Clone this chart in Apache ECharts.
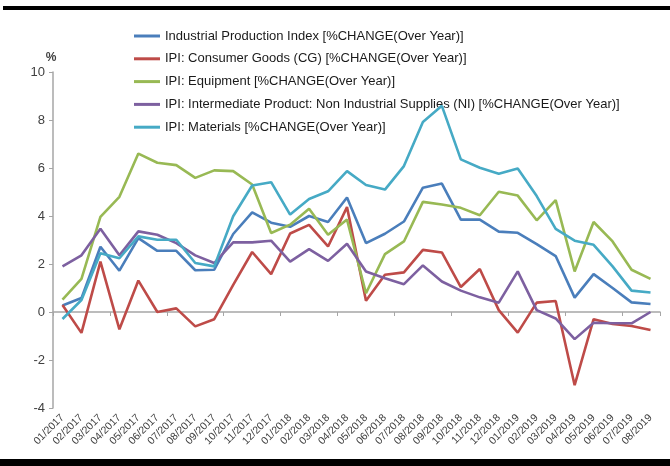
<!DOCTYPE html>
<html>
<head>
<meta charset="utf-8">
<script src="https://cdn.jsdelivr.net/npm/echarts@6/dist/echarts.min.js"></script>
<style>
  html, body { margin: 0; padding: 0; background: #ffffff; }
  #chart { width: 670px; height: 466px; }
</style>
</head>
<body>
<div id="chart"></div>
<script>
// Months, Jan 2017 – Aug 2019
const months = [
  '01/2017','02/2017','03/2017','04/2017','05/2017','06/2017','07/2017','08/2017',
  '09/2017','10/2017','11/2017','12/2017','01/2018','02/2018','03/2018','04/2018',
  '05/2018','06/2018','07/2018','08/2018','09/2018','10/2018','11/2018','12/2018',
  '01/2019','02/2019','03/2019','04/2019','05/2019','06/2019','07/2019','08/2019'
];

// Year-over-year % change of each index
const industrialProduction = [0.27, 0.58, 2.72, 1.72, 3.08, 2.55, 2.55, 1.74, 1.76, 3.25, 4.15, 3.72, 3.55, 4.0, 3.75, 4.77, 2.87, 3.26, 3.77, 5.18, 5.35, 3.85, 3.85, 3.35, 3.3, 2.83, 2.33, 0.6, 1.58, 1.0, 0.4, 0.33];
const consumerGoods = [0.29, -0.87, 2.1, -0.72, 1.31, 0.0, 0.15, -0.6, -0.3, 1.13, 2.5, 1.58, 3.27, 3.63, 2.73, 4.37, 0.47, 1.55, 1.65, 2.59, 2.48, 1.04, 1.79, 0.08, -0.86, 0.39, 0.46, -3.05, -0.3, -0.5, -0.58, -0.75];
const equipment = [0.52, 1.38, 3.96, 4.8, 6.6, 6.22, 6.12, 5.59, 5.9, 5.87, 5.31, 3.29, 3.64, 4.3, 3.22, 3.85, 0.78, 2.41, 2.94, 4.59, 4.48, 4.34, 4.03, 5.01, 4.85, 3.82, 4.66, 1.69, 3.75, 2.94, 1.76, 1.38];
const nonIndustrialSupplies = [1.9, 2.36, 3.47, 2.36, 3.36, 3.22, 2.87, 2.36, 2.04, 2.9, 2.9, 2.97, 2.1, 2.62, 2.13, 2.84, 1.69, 1.41, 1.16, 1.94, 1.27, 0.89, 0.61, 0.39, 1.69, 0.08, -0.27, -1.13, -0.45, -0.47, -0.47, 0.0];
const materials = [-0.29, 0.5, 2.45, 2.24, 3.15, 3.01, 3.01, 2.04, 1.9, 3.99, 5.27, 5.41, 4.06, 4.71, 5.03, 5.87, 5.29, 5.1, 6.08, 7.92, 8.59, 6.36, 6.01, 5.76, 5.98, 4.83, 3.46, 2.97, 2.8, 1.9, 0.89, 0.81];

const seriesNames = [
  'Industrial Production Index [%CHANGE(Over Year)]',
  'IPI: Consumer Goods (CG) [%CHANGE(Over Year)]',
  'IPI: Equipment [%CHANGE(Over Year)]',
  'IPI: Intermediate Product: Non Industrial Supplies (NI) [%CHANGE(Over Year)]',
  'IPI: Materials [%CHANGE(Over Year)]'
];
const seriesData = [industrialProduction, consumerGoods, equipment, nonIndustrialSupplies, materials];
const colors = ['#4A7EBB', '#BE4B48', '#98B954', '#7D60A0', '#46AAC5'];

const yTicks = { min: -4, max: 10, step: 2 };

const chart = echarts.init(document.getElementById('chart'), null, { renderer: 'canvas' });

const axisFont = 'Liberation Sans, Arial, sans-serif';

chart.setOption({
  animation: false,
  backgroundColor: '#ffffff',
  color: colors,
  graphic: [
    { type: 'rect', shape: { x: 3, y: 6, width: 667, height: 4 }, style: { fill: '#000000' } },
    { type: 'rect', shape: { x: 0, y: 459, width: 670, height: 7 }, style: { fill: '#000000' } }
  ],
  legend: {
    orient: 'vertical',
    left: 134,
    top: 29,
    padding: 0,
    icon: 'rect',
    itemWidth: 26,
    itemHeight: 3,
    itemGap: 8.8,
    textStyle: { fontFamily: axisFont, fontSize: 13, color: '#1a1a1a', lineHeight: 14 },
    data: seriesNames
  },
  grid: { left: 53, right: 10, top: 72, bottom: 58, containLabel: false },
  xAxis: [
    {
      type: 'category',
      data: months,
      boundaryGap: true,
      axisLine: { onZero: true, lineStyle: { color: '#A6A6A6', width: 1.5 } },
      axisTick: { show: true, length: 4, lineStyle: { color: '#A6A6A6' } },
      axisLabel: { show: false },
      splitLine: { show: false }
    },
    {
      type: 'category',
      data: months,
      boundaryGap: true,
      position: 'bottom',
      axisLine: { show: false },
      axisTick: { show: false },
      axisLabel: {
        rotate: 45,
        interval: 0,
        margin: 8,
        fontFamily: axisFont,
        fontSize: 10.5,
        color: '#404040'
      },
      splitLine: { show: false }
    }
  ],
  yAxis: {
    type: 'value',
    min: yTicks.min,
    max: yTicks.max,
    interval: yTicks.step,
    name: '%',
    nameLocation: 'end',
    nameGap: 8,
    nameTextStyle: { fontFamily: axisFont, fontSize: 12, color: '#404040', fontWeight: 'bold', padding: [0, 4, 0, 0] },
    axisLine: { show: true, lineStyle: { color: '#A6A6A6', width: 1.5 } },
    axisTick: { show: true, length: 4, inside: false, lineStyle: { color: '#A6A6A6' } },
    axisLabel: { fontFamily: axisFont, fontSize: 13, color: '#404040', margin: 8 },
    splitLine: { show: false }
  },
  series: seriesNames.map((name, i) => ({
    name: name,
    type: 'line',
    xAxisIndex: 0,
    data: seriesData[i],
    symbol: 'none',
    smooth: false,
    lineStyle: { width: 2.6, color: colors[i] },
    itemStyle: { color: colors[i] },
    z: 2 + i
  }))
});
</script>
</body>
</html>
